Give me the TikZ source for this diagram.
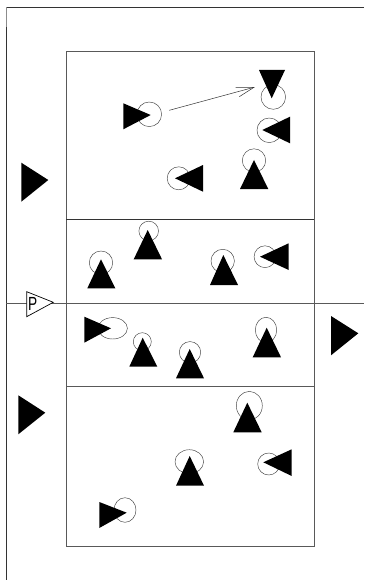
\documentclass[tikz,border=0pt]{standalone}
\usepackage{fontspec}
\setmainfont{Liberation Sans}
\tikzset{
  court/.style={draw=black!65,line width=0.9pt},
  ring/.style={draw=black!75,line width=0.45pt},
  solidtri/.style={fill=black,draw=none},
  passline/.style={draw=black!80,line width=0.5pt}
}
\newcommand{\tri}[3]{\fill[solidtri] #1 -- #2 -- #3 -- cycle;}
\begin{document}
\begin{tikzpicture}[x=1pt,y=-1pt]
\useasboundingbox (0,0) rectangle (364,580);
\fill[white] (0,0) rectangle (364,580);
% frame
\draw[court,draw=black!80] (364,7.3) -- (6.3,7.3);
\draw[court,draw=black!80] (6.3,27) -- (6.3,580);
\draw[court,draw=black!45,line width=1.6pt] (6.3,7.3) -- (6.3,27);
% court
\draw[court] (66,51) rectangle (314,546);
\draw[court,draw=black!80] (66,219.3) -- (314,219.3);
\draw[court] (6.3,303) -- (364,303);
\draw[court] (66,386) -- (314,386);
% rings
\draw[ring] (149.3,114.3) circle (12.3);
\draw[ring] (273.3,97) circle (12.3);
\draw[ring] (269.3,130.3) circle (12.3);
\draw[ring] (254,160.5) circle (11.7);
\draw[ring] (178.7,178.3) circle (11.5);
\draw[ring] (148.7,231) circle (9.8);
\draw[ring] (101,262.7) circle (11.7);
\draw[ring] (222.7,261) circle (11.7);
\draw[ring] (265,256.7) circle (10.9);
\draw[ring] (112.7,328.3) ellipse (14.7 and 10.7);
\draw[ring] (142.3,341.7) circle (9);
\draw[ring] (190,352.3) circle (10.7);
\draw[ring] (266,330) ellipse (10.7 and 12.7);
\draw[ring] (249.3,405.7) ellipse (13 and 14.3);
\draw[ring] (189.3,461.7) ellipse (14.3 and 12);
\draw[ring] (268.7,464) circle (11);
\draw[ring] (125,510) ellipse (11 and 12.3);
% players
\tri{(123.3,103.3)}{(123.3,129.3)}{(150.7,115)}
\tri{(259,70)}{(285,70)}{(271.7,98.3)}
\tri{(290,116.7)}{(290,143.3)}{(262.3,130)}
\tri{(240,189)}{(268.3,189)}{(254,160)}
\tri{(203,165)}{(203,191.7)}{(175,178.3)}
\tri{(133.7,259.3)}{(162,259.3)}{(147.7,230)}
\tri{(87.3,288.3)}{(115.3,288.3)}{(101,259.3)}
\tri{(210,285)}{(238,285)}{(223.3,255)}
\tri{(288.7,243.3)}{(288.7,270)}{(260,256.7)}
\tri{(84.3,316.7)}{(84.3,342.7)}{(111,328.3)}
\tri{(129.3,366.7)}{(157.3,366.7)}{(142.7,337.7)}
\tri{(176,378.3)}{(204,378.3)}{(189.7,349)}
\tri{(252.7,357.3)}{(281,357.3)}{(266.7,327.7)}
\tri{(233.3,432.3)}{(261.7,432.3)}{(247.3,402.7)}
\tri{(176,485.7)}{(204,485.7)}{(189.7,456)}
\tri{(291.7,449.3)}{(291.7,476)}{(263.3,462.3)}
\tri{(99.3,502)}{(99.3,528)}{(126.7,512.7)}
% side triangles
\tri{(21.3,162.7)}{(21.3,201.7)}{(48.3,180)}
\tri{(18.3,395.3)}{(18.3,434.3)}{(45.3,412.7)}
\tri{(331,316)}{(331,355.3)}{(358.3,333.3)}
% pass arrow
\coordinate (passA) at (169.3,110.3);
\coordinate (passB) at (254,87.3);
\draw[passline] (passA) -- (passB);
\draw[passline] (235.7,87.3) -- (passB) -- (239.3,96.7);
% P marker
\draw[black,fill=white,line width=0.7pt] (26.7,291.7) -- (26.7,316.7) -- (53.3,302.3) -- cycle;
\node[inner sep=0pt,xscale=0.72,font=\fontsize{19}{19}\selectfont] (pmark) at (32.6,304) {P};
\end{tikzpicture}
\end{document}
